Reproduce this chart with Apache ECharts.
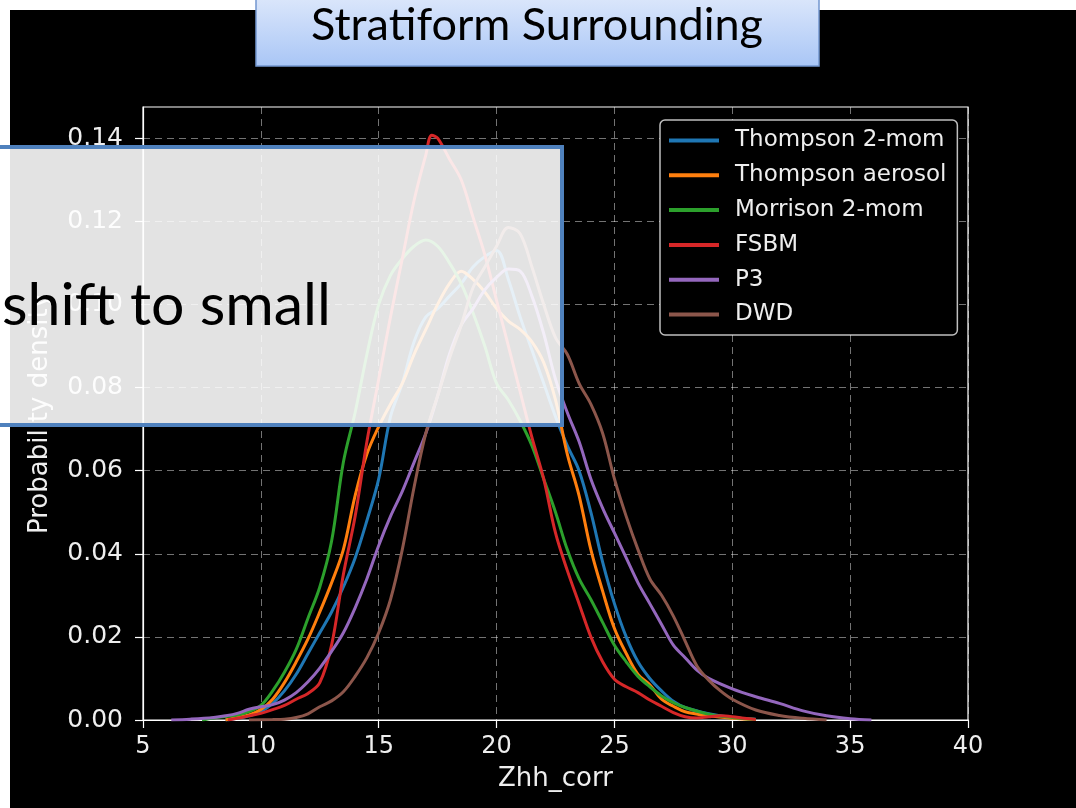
<!DOCTYPE html>
<html lang="en">
<head>
  <meta charset="UTF-8">
  <title>Stratiform Surrounding</title>
  <script src="https://cdn.jsdelivr.net/npm/echarts@6/dist/echarts.min.js"></script>
  <style>
    html,
    body {
      margin: 0;
      padding: 0;
      background: #fff;
    }

    #chart {
      width: 1076px;
      height: 808px;
    }
  </style>
</head>

<body>
  <div id="chart"></div>

  <script>
    // names shown in the legend
    const seriesNames = ['Thompson 2-mom', 'Thompson aerosol', 'Morrison 2-mom', 'FSBM', 'P3', 'DWD'];
    const seriesColors = ['#1f77b4', '#ff7f0e', '#2ca02c', '#d62728', '#9467bd', '#8c564b'];

    // KDE curves (x = Zhh_corr, y = probability density)
    const thompson2momX = [8.5, 9, 9.5, 10, 10.5, 11, 11.5, 12, 12.5, 13, 13.5, 14, 14.5, 15, 15.5, 16, 16.5, 17, 17.5, 18, 18.5, 19, 19.5, 20, 20.5, 21, 21.5, 22, 22.5, 23, 23.5, 24, 24.5, 25, 25.5, 26, 26.5, 27, 27.5, 28, 29, 30, 31];
    const thompson2momY = [0, 0.0004, 0.001, 0.002, 0.004, 0.007, 0.011, 0.016, 0.021, 0.026, 0.032, 0.039, 0.048, 0.058, 0.073, 0.081, 0.091, 0.097, 0.099, 0.102, 0.105, 0.109, 0.1115, 0.113, 0.106, 0.097, 0.089, 0.081, 0.073, 0.066, 0.060, 0.050, 0.038, 0.028, 0.020, 0.014, 0.010, 0.007, 0.0045, 0.003, 0.0015, 0.0006, 0.0002];

    const thompsonAerosolX = [8.5, 9, 9.5, 10, 10.5, 11, 11.5, 12, 12.5, 13, 13.5, 14, 14.5, 15, 15.5, 16, 16.5, 17, 17.5, 18, 18.5, 19, 19.5, 20, 20.5, 21, 21.5, 22, 22.5, 23, 23.5, 24, 24.5, 25, 25.5, 26, 26.5, 27, 27.5, 28, 29, 30, 31];
    const thompsonAerosolY = [0, 0.0006, 0.0012, 0.0025, 0.005, 0.009, 0.014, 0.0195, 0.026, 0.033, 0.041, 0.054, 0.064, 0.0706, 0.076, 0.081, 0.088, 0.094, 0.100, 0.105, 0.108, 0.106, 0.103, 0.099, 0.096, 0.094, 0.091, 0.086, 0.077, 0.064, 0.054, 0.041, 0.031, 0.022, 0.016, 0.011, 0.0085, 0.005, 0.0033, 0.002, 0.001, 0.0004, 0.0001];

    const morrisonX = [7.5, 8, 9, 9.5, 10, 10.5, 11, 11.5, 12, 12.5, 13, 13.5, 14, 14.5, 15, 15.5, 16, 16.5, 17, 17.5, 18, 18.5, 19, 19.5, 20, 20.5, 21, 21.5, 22, 22.5, 23, 23.5, 24, 24.5, 25, 25.5, 26, 26.5, 27, 27.5, 28, 29, 30, 31];
    const morrisonY = [0, 0.0005, 0.0012, 0.002, 0.0035, 0.007, 0.0115, 0.017, 0.0245, 0.032, 0.043, 0.062, 0.074, 0.088, 0.100, 0.107, 0.111, 0.114, 0.1155, 0.114, 0.110, 0.105, 0.098, 0.090, 0.081, 0.077, 0.072, 0.066, 0.058, 0.050, 0.041, 0.034, 0.029, 0.0235, 0.018, 0.014, 0.0105, 0.008, 0.0058, 0.0042, 0.003, 0.0014, 0.0006, 0.0001];

    const fsbmX = [8.6, 9, 9.5, 10, 10.5, 11, 11.5, 12, 12.5, 13, 13.5, 14, 14.5, 15, 15.5, 16, 16.5, 17, 17.25, 17.5, 18, 18.5, 19, 19.5, 20, 20.5, 21, 21.5, 22, 22.5, 23, 23.5, 24, 24.5, 25, 25.5, 26, 26.5, 27, 27.5, 28, 28.5, 29, 29.5, 30, 30.5, 31];
    const fsbmY = [0, 0.0004, 0.001, 0.0016, 0.0025, 0.0035, 0.005, 0.0064, 0.009, 0.018, 0.035, 0.049, 0.067, 0.082, 0.097, 0.111, 0.125, 0.136, 0.1407, 0.140, 0.135, 0.130, 0.121, 0.112, 0.101, 0.090, 0.079, 0.068, 0.058, 0.045, 0.036, 0.028, 0.020, 0.014, 0.0098, 0.008, 0.0066, 0.0048, 0.0033, 0.0018, 0.0008, 0.0005, 0.0008, 0.001, 0.0008, 0.0004, 0.0001];

    const p3X = [6.2, 7, 8, 8.5, 9, 9.5, 10, 10.5, 11, 11.5, 12, 12.5, 13, 13.5, 14, 14.5, 15, 15.5, 16, 16.5, 17, 17.5, 18, 18.5, 19, 19.5, 20, 20.5, 21, 21.5, 22, 22.5, 23, 23.5, 24, 24.5, 25, 25.5, 26, 26.5, 27, 27.5, 28, 28.5, 29, 30, 31, 32, 33, 34, 35, 35.9];
    const p3Y = [0, 0.0002, 0.0006, 0.001, 0.0016, 0.0026, 0.0032, 0.0037, 0.0048, 0.0066, 0.0092, 0.0125, 0.0165, 0.021, 0.027, 0.034, 0.042, 0.049, 0.055, 0.062, 0.069, 0.078, 0.088, 0.095, 0.099, 0.1035, 0.1065, 0.1085, 0.108, 0.102, 0.093, 0.082, 0.074, 0.067, 0.058, 0.051, 0.045, 0.039, 0.033, 0.028, 0.023, 0.018, 0.015, 0.012, 0.010, 0.0075, 0.0056, 0.004, 0.0022, 0.001, 0.0003, 0];

    const dwdX = [9.5, 10.5, 11, 11.5, 12, 12.5, 13, 13.5, 14, 14.5, 15, 15.5, 16, 16.5, 17, 17.5, 18, 18.5, 19, 19.5, 20, 20.5, 21, 21.5, 22, 22.5, 23, 23.5, 24, 24.5, 25, 25.5, 26, 26.5, 27, 27.5, 28, 28.5, 29, 29.5, 30, 31, 32, 33, 34];
    const dwdY = [0, 0.0001, 0.0002, 0.0006, 0.0015, 0.0032, 0.0046, 0.0068, 0.0105, 0.015, 0.021, 0.029, 0.041, 0.056, 0.069, 0.078, 0.087, 0.095, 0.104, 0.109, 0.114, 0.1185, 0.117, 0.109, 0.100, 0.092, 0.088, 0.081, 0.076, 0.069, 0.058, 0.049, 0.041, 0.034, 0.030, 0.025, 0.019, 0.013, 0.0096, 0.007, 0.005, 0.0024, 0.0011, 0.0004, 0];

    const curvesX = [thompson2momX, thompsonAerosolX, morrisonX, fsbmX, p3X, dwdX];
    const curvesY = [thompson2momY, thompsonAerosolY, morrisonY, fsbmY, p3Y, dwdY];

    // axis ticks
    const xTicks = [5, 10, 15, 20, 25, 30, 35, 40];
    const yTicks = [0, 0.02, 0.04, 0.06, 0.08, 0.10, 0.12, 0.14];

    const chart = echarts.init(document.getElementById('chart'), null, { renderer: 'canvas' });

    const FONT = 'DejaVu Sans';
    const TXT = '#eeeeee';

    const series = seriesNames.map((name, i) => ({
      name: name,
      type: 'line',
      data: curvesX[i].map((x, k) => [x, curvesY[i][k]]),
      showSymbol: false,
      symbol: 'none',
      smooth: 0.35,
      lineStyle: { color: seriesColors[i], width: 3 },
      itemStyle: { color: seriesColors[i] },
      z: 2 + i
    }));

    const option = {
      backgroundColor: '#ffffff',
      animation: false,
      grid: {
        left: 143,
        top: 107,
        right: 108,
        bottom: 88,
        show: true,
        borderColor: '#ffffff',
        borderWidth: 1.2,
        backgroundColor: 'transparent'
      },
      legend: {
        data: seriesNames,
        orient: 'vertical',
        left: 660,
        top: 120,
        icon: 'rect',
        itemWidth: 50,
        itemHeight: 4,
        itemGap: 7.8,
        padding: [7, 11, 7, 9],
        backgroundColor: '#000000',
        borderColor: 'rgba(255,255,255,0.75)',
        borderWidth: 1.5,
        borderRadius: 5,
        textStyle: {
          color: TXT,
          fontFamily: FONT,
          fontSize: 23,
          lineHeight: 27,
          padding: [0, 0, 0, 11]
        },
        z: 20
      },
      xAxis: {
        type: 'value',
        min: 5,
        max: 40,
        interval: 5,
        name: 'Zhh_corr',
        nameLocation: 'middle',
        nameGap: 46,
        nameTextStyle: { color: TXT, fontFamily: FONT, fontSize: 26 },
        axisLine: { show: true, lineStyle: { color: '#ffffff', width: 1.2 } },
        axisTick: { show: true, length: 8, lineStyle: { color: '#ffffff', width: 1.2 } },
        axisLabel: { color: TXT, fontFamily: FONT, fontSize: 24, margin: 15, customValues: xTicks },
        splitLine: { show: true, lineStyle: { color: 'rgba(255,255,255,0.45)', type: [7, 5], width: 1 } }
      },
      yAxis: {
        type: 'value',
        min: 0,
        max: 0.1475,
        interval: 0.02,
        name: 'Probability density',
        nameLocation: 'middle',
        nameGap: 90,
        nameTextStyle: { color: TXT, fontFamily: FONT, fontSize: 26 },
        axisLine: { show: true, lineStyle: { color: '#ffffff', width: 1.2 } },
        axisTick: { show: true, length: 8, lineStyle: { color: '#ffffff', width: 1.2 }, customValues: yTicks },
        axisLabel: {
          color: TXT,
          fontFamily: FONT,
          fontSize: 25,
          margin: 20,
          customValues: yTicks,
          formatter: v => v.toFixed(2)
        },
        splitLine: { show: true, lineStyle: { color: 'rgba(255,255,255,0.45)', type: [7, 5], width: 1 } }
      },
      graphic: [
        // dark figure background
        {
          type: 'rect',
          z: -100,
          silent: true,
          shape: { x: 10, y: 10, width: 1066, height: 798 },
          style: { fill: '#000000' }
        },
        // slide title box
        {
          type: 'rect',
          z: 100,
          shape: { x: 256, y: -3, width: 563, height: 69 },
          style: {
            fill: new echarts.graphic.LinearGradient(0, 0, 0, 1, [
              { offset: 0, color: '#dce7fb' },
              { offset: 1, color: '#a9c6f6' }
            ]),
            stroke: '#7397cf',
            lineWidth: 1.5
          }
        },
        {
          type: 'text',
          z: 101,
          style: {
            text: 'Stratiform Surrounding',
            x: 537,
            y: 25,
            align: 'center',
            verticalAlign: 'middle',
            fill: '#000000',
            font: '45px Lato'
          }
        },
        // annotation box over the plot
        {
          type: 'rect',
          z: 100,
          shape: { x: -10, y: 147, width: 572, height: 278 },
          style: {
            fill: 'rgba(255,255,255,0.89)',
            stroke: '#4f81bd',
            lineWidth: 4
          }
        },
        {
          type: 'text',
          z: 101,
          style: {
            text: 'shift to small',
            x: 2,
            y: 306,
            align: 'left',
            verticalAlign: 'middle',
            fill: '#000000',
            font: '59px Lato'
          }
        }
      ],
      series: series
    };

    chart.setOption(option);
  </script>
</body>

</html>
